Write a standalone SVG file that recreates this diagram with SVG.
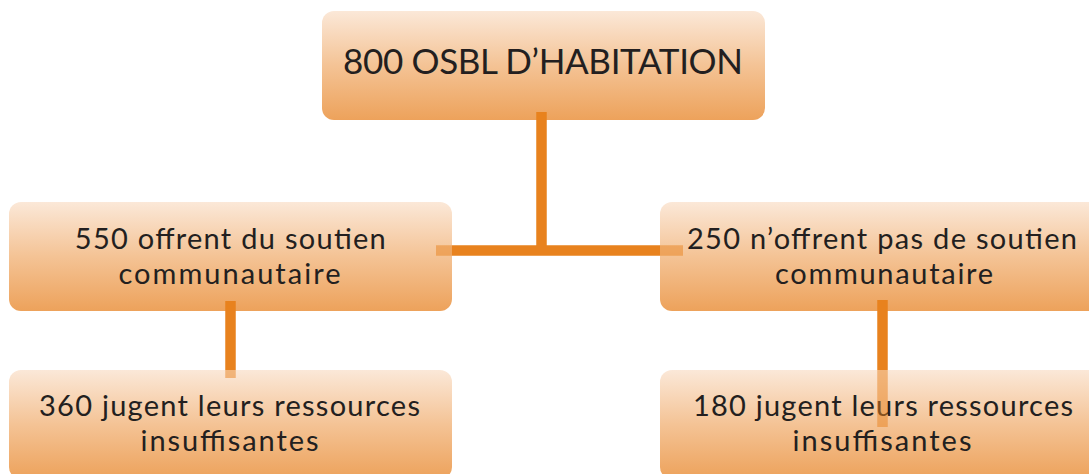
<svg xmlns="http://www.w3.org/2000/svg" width="1089" height="474" viewBox="0 0 1089 474">
  <defs>
    <linearGradient id="boxGrad" x1="0" y1="0" x2="0" y2="1">
      <stop offset="0" stop-color="#fbe8d8"/>
      <stop offset="0.5" stop-color="#f4c395"/>
      <stop offset="1" stop-color="#eda25b"/>
    </linearGradient>
  </defs>
  <style>
    .box { fill: url(#boxGrad); }
    .lbl { font-family: Lato, "Open Sans", "Liberation Sans", sans-serif; fill: #231f20; text-anchor: middle; }
    .big { font-size: 35px; }
    .mid { font-size: 29px; }
    .line { stroke: #e8821e; stroke-width: 10.5; fill: none; stroke-linecap: butt; }
    .fade { stroke: #e8821e; stroke-opacity: 0.5; stroke-width: 10.5; fill: none; }
  </style>

  <g id="node-top">
    <rect class="box" x="322" y="11" width="443" height="109" rx="12"/>
    <text class="lbl big" x="543" y="74" textLength="400" lengthAdjust="spacing">800 OSBL D’HABITATION</text>
  </g>
  <g id="node-left">
    <rect class="box" x="9" y="202" width="443" height="109" rx="12"/>
    <text class="lbl mid" x="230.3" y="249" textLength="311" lengthAdjust="spacing">550 offrent du soutien</text>
    <text class="lbl mid" x="229.5" y="284" textLength="222" lengthAdjust="spacing">communautaire</text>
  </g>
  <g id="node-right">
    <rect class="box" x="660" y="202" width="443" height="109" rx="12"/>
    <text class="lbl mid" x="882" y="249" textLength="390" lengthAdjust="spacing">250 n’offrent pas de soutien</text>
    <text class="lbl mid" x="884" y="284" textLength="218" lengthAdjust="spacing">communautaire</text>
  </g>
  <g id="node-left-bottom">
    <rect class="box" x="9" y="370" width="443" height="109" rx="12"/>
    <text class="lbl mid" x="229.5" y="416" textLength="381" lengthAdjust="spacing">360 jugent leurs ressources</text>
    <text class="lbl mid" x="229.5" y="451" textLength="178" lengthAdjust="spacing">insuffisantes</text>
  </g>
  <g id="node-right-bottom">
    <rect class="box" x="660" y="370" width="443" height="109" rx="12"/>
    <text class="lbl mid" x="883" y="416" textLength="380" lengthAdjust="spacing">180 jugent leurs ressources</text>
    <text class="lbl mid" x="882" y="451" textLength="179" lengthAdjust="spacing">insuffisantes</text>
  </g>

  <g id="connectors">
    <path class="line" d="M541.5 112 V250.5 M452 250.5 H660"/>
    <path class="fade" d="M436 250.5 H452 M660 250.5 H683"/>
    <path class="line" d="M230.5 301 V370"/>
    <path class="fade" d="M230.5 370 V378"/>
    <path class="line" d="M882.5 300 V370"/>
    <path class="fade" d="M882.5 370 V427"/>
  </g>
</svg>
